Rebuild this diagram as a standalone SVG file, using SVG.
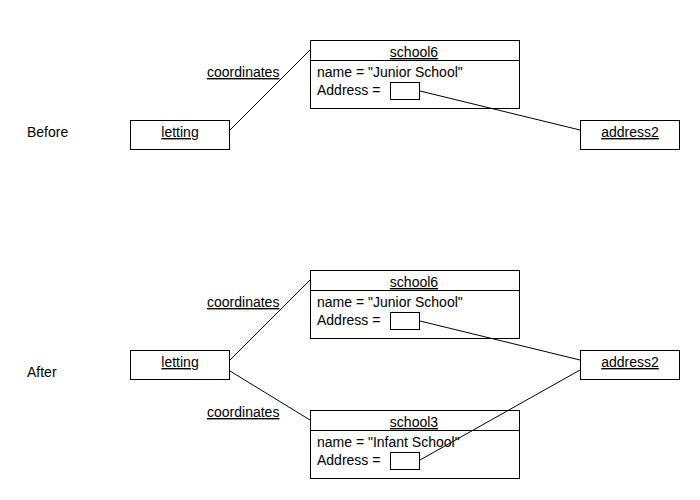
<svg xmlns="http://www.w3.org/2000/svg" width="700" height="500" viewBox="0 0 700 500">
<style>
text{font-family:"Liberation Sans",Arial,sans-serif;font-size:14px;fill:#000}
.u{text-decoration:underline}
.m{text-anchor:middle}
rect{fill:#fff;stroke:#000;stroke-width:1}
line{stroke:#000;stroke-width:1}
</style>
<rect x="0" y="0" width="700" height="500" style="fill:#fff;stroke:none"/>
<text x="27" y="137">Before</text>
<text x="27" y="377">After</text>
<g id="letting1">
<rect x="130.5" y="120.5" width="99" height="29"/>
<text x="180" y="137" class="u m">letting</text>
</g>
<g id="school6a">
<rect x="310.5" y="40.5" width="209" height="68"/>
<line x1="310.5" y1="60.5" x2="519.5" y2="60.5"/>
<text x="414" y="57" class="u m">school6</text>
<text x="317" y="77">name = "Junior School"</text>
<text x="317" y="95">Address =</text>
<rect x="390.5" y="82.5" width="29" height="17"/>
</g>
<g id="address2a">
<rect x="580.5" y="120.5" width="99" height="29"/>
<text x="630" y="137" class="u m">address2</text>
</g>
<g id="letting2">
<rect x="130.5" y="350.5" width="99" height="29"/>
<text x="180" y="367" class="u m">letting</text>
</g>
<g id="school6b">
<rect x="310.5" y="270.5" width="209" height="68"/>
<line x1="310.5" y1="290.5" x2="519.5" y2="290.5"/>
<text x="414" y="287" class="u m">school6</text>
<text x="317" y="307">name = "Junior School"</text>
<text x="317" y="325">Address =</text>
<rect x="390.5" y="312.5" width="29" height="17"/>
</g>
<g id="address2b">
<rect x="580.5" y="350.5" width="99" height="29"/>
<text x="630" y="367" class="u m">address2</text>
</g>
<g id="school3">
<rect x="310.5" y="410.5" width="209" height="68"/>
<line x1="310.5" y1="430.5" x2="519.5" y2="430.5"/>
<text x="414" y="427" class="u m">school3</text>
<text x="317" y="447">name = "Infant School"</text>
<text x="317" y="465">Address =</text>
<rect x="390.5" y="452.5" width="29" height="17"/>
</g>
<g id="connectors">
<line x1="230" y1="130" x2="310" y2="50"/>
<line x1="420" y1="91" x2="580" y2="130"/>
<line x1="230" y1="360" x2="310" y2="280"/>
<line x1="230" y1="371" x2="310" y2="420"/>
<line x1="420" y1="321" x2="580" y2="360"/>
<line x1="420" y1="460" x2="580" y2="370"/>
<text x="207" y="77" class="u">coordinates</text>
<text x="207" y="307" class="u">coordinates</text>
<text x="207" y="417" class="u">coordinates</text>
</g>
</svg>
